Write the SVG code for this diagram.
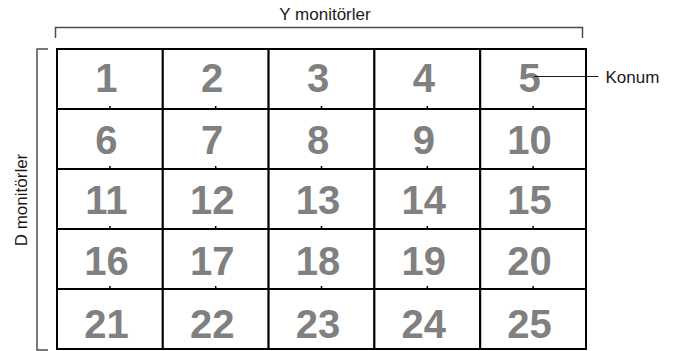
<svg xmlns="http://www.w3.org/2000/svg" width="688" height="351" viewBox="0 0 688 351">
<style>
.cell{fill:#fff;stroke:#000;stroke-width:2}
.num{font-family:"Liberation Sans",Arial,sans-serif;font-weight:bold;font-size:40px;fill:#808080;text-anchor:middle}
.tick{stroke:#000;stroke-width:1.5}
.lbl{font-family:"Liberation Sans",Arial,sans-serif;font-size:17px;fill:#1a1a1a}
.br{fill:none;stroke:#4d4d4d;stroke-width:1.5}
</style>
<rect width="688" height="351" fill="#fff"/>
<g id="bracket-top"><path class="br" d="M55.5 38 V27.5 H582.5 V38"/></g>
<g id="bracket-left"><path class="br" d="M48 49 H37 V350 H48" /></g>
<text class="lbl" x="325" y="19.5" text-anchor="middle">Y monitörler</text>
<text class="lbl" transform="translate(27,200) rotate(-90)" text-anchor="middle">D monitörler</text>
<g id="grid">
<g id="m1"><rect class="cell" x="57" y="49" width="105.8" height="60"/><text class="num" x="106.4" y="92">1</text><line class="tick" x1="109.9" y1="106" x2="109.9" y2="109"/></g>
<g id="m2"><rect class="cell" x="162.8" y="49" width="105.8" height="60"/><text class="num" x="212.2" y="92">2</text><line class="tick" x1="215.7" y1="106" x2="215.7" y2="109"/></g>
<g id="m3"><rect class="cell" x="268.6" y="49" width="105.8" height="60"/><text class="num" x="318" y="92">3</text><line class="tick" x1="321.5" y1="106" x2="321.5" y2="109"/></g>
<g id="m4"><rect class="cell" x="374.4" y="49" width="105.8" height="60"/><text class="num" x="423.8" y="92">4</text><line class="tick" x1="427.3" y1="106" x2="427.3" y2="109"/></g>
<g id="m5"><rect class="cell" x="480.2" y="49" width="105.8" height="60"/><text class="num" x="529.6" y="92">5</text><line class="tick" x1="533.1" y1="106" x2="533.1" y2="109"/></g>
<g id="m6"><rect class="cell" x="57" y="109" width="105.8" height="60"/><text class="num" x="106.4" y="154">6</text><line class="tick" x1="109.9" y1="166" x2="109.9" y2="169"/></g>
<g id="m7"><rect class="cell" x="162.8" y="109" width="105.8" height="60"/><text class="num" x="212.2" y="154">7</text><line class="tick" x1="215.7" y1="166" x2="215.7" y2="169"/></g>
<g id="m8"><rect class="cell" x="268.6" y="109" width="105.8" height="60"/><text class="num" x="318" y="154">8</text><line class="tick" x1="321.5" y1="166" x2="321.5" y2="169"/></g>
<g id="m9"><rect class="cell" x="374.4" y="109" width="105.8" height="60"/><text class="num" x="423.8" y="154">9</text><line class="tick" x1="427.3" y1="166" x2="427.3" y2="169"/></g>
<g id="m10"><rect class="cell" x="480.2" y="109" width="105.8" height="60"/><text class="num" x="529.6" y="154">10</text><line class="tick" x1="533.1" y1="166" x2="533.1" y2="169"/></g>
<g id="m11"><rect class="cell" x="57" y="169" width="105.8" height="60"/><text class="num" x="106.4" y="214">11</text><line class="tick" x1="109.9" y1="226" x2="109.9" y2="229"/></g>
<g id="m12"><rect class="cell" x="162.8" y="169" width="105.8" height="60"/><text class="num" x="212.2" y="214">12</text><line class="tick" x1="215.7" y1="226" x2="215.7" y2="229"/></g>
<g id="m13"><rect class="cell" x="268.6" y="169" width="105.8" height="60"/><text class="num" x="318" y="214">13</text><line class="tick" x1="321.5" y1="226" x2="321.5" y2="229"/></g>
<g id="m14"><rect class="cell" x="374.4" y="169" width="105.8" height="60"/><text class="num" x="423.8" y="214">14</text><line class="tick" x1="427.3" y1="226" x2="427.3" y2="229"/></g>
<g id="m15"><rect class="cell" x="480.2" y="169" width="105.8" height="60"/><text class="num" x="529.6" y="214">15</text><line class="tick" x1="533.1" y1="226" x2="533.1" y2="229"/></g>
<g id="m16"><rect class="cell" x="57" y="229" width="105.8" height="60"/><text class="num" x="106.4" y="275">16</text><line class="tick" x1="109.9" y1="286" x2="109.9" y2="289"/></g>
<g id="m17"><rect class="cell" x="162.8" y="229" width="105.8" height="60"/><text class="num" x="212.2" y="275">17</text><line class="tick" x1="215.7" y1="286" x2="215.7" y2="289"/></g>
<g id="m18"><rect class="cell" x="268.6" y="229" width="105.8" height="60"/><text class="num" x="318" y="275">18</text><line class="tick" x1="321.5" y1="286" x2="321.5" y2="289"/></g>
<g id="m19"><rect class="cell" x="374.4" y="229" width="105.8" height="60"/><text class="num" x="423.8" y="275">19</text><line class="tick" x1="427.3" y1="286" x2="427.3" y2="289"/></g>
<g id="m20"><rect class="cell" x="480.2" y="229" width="105.8" height="60"/><text class="num" x="529.6" y="275">20</text><line class="tick" x1="533.1" y1="286" x2="533.1" y2="289"/></g>
<g id="m21"><rect class="cell" x="57" y="289" width="105.8" height="60"/><text class="num" x="106.4" y="338">21</text></g>
<g id="m22"><rect class="cell" x="162.8" y="289" width="105.8" height="60"/><text class="num" x="212.2" y="338">22</text></g>
<g id="m23"><rect class="cell" x="268.6" y="289" width="105.8" height="60"/><text class="num" x="318" y="338">23</text></g>
<g id="m24"><rect class="cell" x="374.4" y="289" width="105.8" height="60"/><text class="num" x="423.8" y="338">24</text></g>
<g id="m25"><rect class="cell" x="480.2" y="289" width="105.8" height="60"/><text class="num" x="529.6" y="338">25</text></g>
</g>
<g id="connectors"><line x1="534" y1="76.5" x2="598.5" y2="76.5" stroke="#1a1a1a" stroke-width="1"/></g>
<g id="konum"><text class="lbl" x="605.5" y="82.5">Konum</text></g>
</svg>
